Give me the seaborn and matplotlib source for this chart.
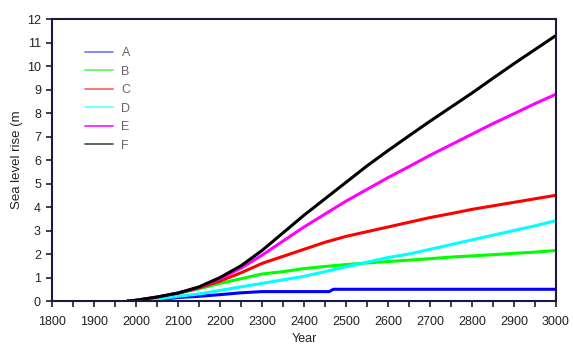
import numpy as np
import pandas as pd
import matplotlib
matplotlib.use("Agg")
import matplotlib.pyplot as plt
from matplotlib.lines import Line2D
from matplotlib.ticker import MultipleLocator
import seaborn as sns

years = [1980, 2000, 2050, 2100, 2150, 2200, 2250, 2300, 2350, 2400, 2450,
         2500, 2550, 2600, 2650, 2700, 2750, 2800, 2850, 2900, 2950, 3000]
years_a = [1980, 2000, 2050, 2100, 2150, 2200, 2250, 2300, 2460, 2470, 3000]
sl_a = [0, 0.0, 0.05, 0.15, 0.2, 0.27, 0.35, 0.4, 0.4, 0.5, 0.5]
sl_b = [0, 0.03, 0.16, 0.33, 0.52, 0.75, 0.95, 1.15, 1.25, 1.38, 1.47,
        1.55, 1.62, 1.68, 1.74, 1.8, 1.87, 1.92, 1.97, 2.03, 2.08, 2.15]
sl_c = [0, 0.03, 0.16, 0.33, 0.56, 0.85, 1.2, 1.6, 1.9, 2.2, 2.5,
        2.75, 2.95, 3.15, 3.35, 3.55, 3.72, 3.9, 4.05, 4.2, 4.35, 4.5]
sl_d = [0, 0.0, 0.08, 0.2, 0.3, 0.45, 0.6, 0.75, 0.9, 1.05, 1.25,
        1.45, 1.65, 1.85, 2.0, 2.2, 2.4, 2.6, 2.8, 3.0, 3.2, 3.42]
sl_e = [0, 0.03, 0.17, 0.34, 0.58, 0.95, 1.4, 1.95, 2.55, 3.15, 3.7,
        4.25, 4.75, 5.25, 5.72, 6.2, 6.65, 7.1, 7.55, 7.97, 8.4, 8.8]
sl_f = [0, 0.03, 0.17, 0.34, 0.6, 1.0, 1.5, 2.15, 2.9, 3.65, 4.35,
        5.05, 5.75, 6.4, 7.03, 7.65, 8.25, 8.85, 9.48, 10.1, 10.7, 11.3]
series = ["A", "B", "C", "D", "E", "F"]
colors = ["#0000ff", "#00ff00", "#ff0000", "#00ffff", "#ff00ff", "#000000"]
legend_colors = ["#7b7bff", "#6af56a", "#ff6b6b", "#6affff", "#ff22ff", "#555555"]
xticks = list(range(1800, 3001, 100))
yticks = list(range(0, 13))

frames = [pd.DataFrame({"Year": years_a, "rise": sl_a, "scen": "A"})]
for name, vals in zip(series[1:], [sl_b, sl_c, sl_d, sl_e, sl_f]):
    frames.append(pd.DataFrame({"Year": years, "rise": vals, "scen": name}))
df = pd.concat(frames, ignore_index=True)

sns.set_style("white")
plt.rcParams["font.family"] = ["Liberation Sans", "DejaVu Sans"]

fig = plt.figure(figsize=(5.73, 3.45), dpi=100)
ax = fig.add_axes([0.0908, 0.1275, 0.8795, 0.8174])

sns.lineplot(data=df, x="Year", y="rise", hue="scen", hue_order=series,
             palette=dict(zip(series, colors)), estimator=None, sort=False,
             linewidth=2.2, legend=False, ax=ax)

ax.set_xlim(1800, 3000)
ax.set_ylim(0, 12)
ax.set_xticks(xticks)
ax.set_xticklabels([str(t) for t in xticks])
ax.xaxis.set_minor_locator(MultipleLocator(50))
ax.set_yticks(yticks)
ax.set_yticklabels([str(t) for t in yticks])
ax.tick_params(axis="both", which="both", direction="out", length=4, width=1.2,
               color="#1a1a40", labelsize=9, labelcolor="#222222")
ax.tick_params(axis="x", which="both", bottom=True, pad=7)
ax.tick_params(axis="y", left=True, pad=4)
for sp in ax.spines.values():
    sp.set_visible(True)
    sp.set_color("#1a1a40")
    sp.set_linewidth(1.5)

ax.set_xlabel("Year", fontsize=9, color="#222222", labelpad=3.5)
ax.set_ylabel("Sea level rise (m", fontsize=9.5, color="#222222", labelpad=3)

handles = [Line2D([0], [0], color=c, lw=1.3) for c in legend_colors]
leg = ax.legend(handles, series, loc="upper left", bbox_to_anchor=(0.056, 0.918),
                frameon=False, fontsize=9, handlelength=2.2, handletextpad=0.7,
                labelspacing=0.52, borderaxespad=0)
for t in leg.get_texts():
    t.set_color("#666666")

fig.savefig("out.png", dpi=100)
